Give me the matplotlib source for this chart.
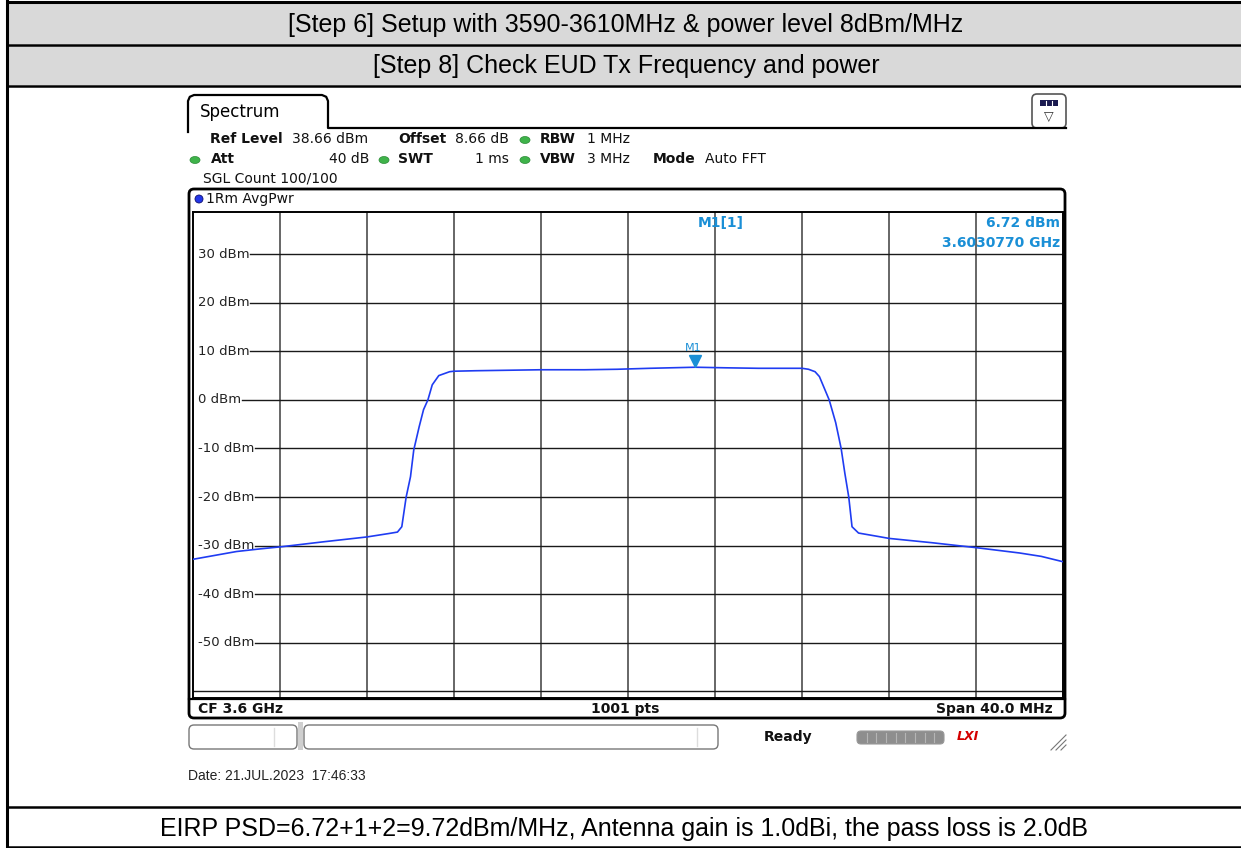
#!/usr/bin/env python
# -*- coding: utf-8 -*-

"""
Spectrum analyser screenshot (EUD Tx power check) redrawn with matplotlib
"""

import matplotlib
matplotlib.use("Agg")
import matplotlib.pyplot as plt
from matplotlib import transforms
from matplotlib.patches import Rectangle, FancyBboxPatch, Ellipse, Circle

W, H = 1241, 848

# trace: frequency in MHz, level in dBm
freq_mhz = [3580.0, 3581.0, 3582.0, 3583.0, 3584.1, 3586.0, 3588.0, 3589.0,
            3589.4, 3589.6, 3589.8, 3590.0, 3590.15, 3590.4, 3590.6, 3590.8,
            3591.0, 3591.3, 3591.8, 3592.0, 3593.0, 3596.0, 3598.0, 3599.5,
            3601.0, 3603.077, 3604.5, 3606.0, 3608.0, 3608.3, 3608.6, 3608.8,
            3609.25, 3609.55, 3609.8, 3609.97, 3610.15, 3610.3, 3610.6, 3611.5,
            3612.0, 3614.0, 3616.0, 3618.0, 3619.0, 3620.0]
level_dbm = [-32.8, -32.0, -31.2, -30.7, -30.2, -29.2, -28.2, -27.5,
             -27.2, -26.1, -20.0, -15.8, -10.3, -5.5, -2.0, 0.0,
             3.1, 5.0, 5.8, 5.9, 6.0, 6.2, 6.2, 6.3,
             6.5, 6.72, 6.6, 6.5, 6.5, 6.3, 5.8, 4.8,
             0.0, -4.7, -10.0, -15.1, -20.0, -26.1, -27.4, -28.1,
             -28.5, -29.4, -30.4, -31.5, -32.2, -33.3]

grid_levels = [30, 20, 10, 0, -10, -20, -30, -40, -50, -60]
grid_labels = ["30 dBm", "20 dBm", "10 dBm", "0 dBm", "-10 dBm", "-20 dBm",
               "-30 dBm", "-40 dBm", "-50 dBm", ""]

ref_level = 38.66
center_mhz = 3600.0
span_mhz = 40.0
marker_freq = 3603.077
marker_level = 6.72

title_rows = ["[Step 6] Setup with 3590-3610MHz & power level 8dBm/MHz",
              "[Step 8] Check EUD Tx Frequency and power"]
result_text = ("EIRP PSD=6.72+1+2=9.72dBm/MHz, Antenna gain is 1.0dBi, "
               "the pass loss is 2.0dB")
date_text = "Date: 21.JUL.2023  17:46:33"

TABLE_FONT = "Liberation Sans"
SCREEN_FONT = "DejaVu Sans"
BLUE = "#1a8fd6"
GREEN = "#3fb34a"


def main():
    fig = plt.figure(figsize=(W / 100, H / 100), dpi=100)

    # background layer drawn in pixel units
    bg = fig.add_axes([0, 0, 1, 1])
    bg.set_xlim(0, W)
    bg.set_ylim(H, 0)
    bg.axis("off")

    # table around the screenshot
    bg.add_patch(Rectangle((8, 3), W, 41, fc="#d9d9d9", ec="none"))
    bg.add_patch(Rectangle((8, 46), W, 39, fc="#d9d9d9", ec="none"))
    for yy, lw in [(1.5, 2.2), (45, 1.8), (86, 1.8), (807, 1.8), (847, 1.8)]:
        bg.plot([6, W], [yy, yy], color="black", lw=lw, solid_capstyle="butt")
    bg.plot([7, 7], [0, H], color="black", lw=2.2)
    bg.text(626, 25, title_rows[0], ha="center", va="center",
            family=TABLE_FONT, fontsize=18)
    bg.text(626, 66, title_rows[1], ha="center", va="center",
            family=TABLE_FONT, fontsize=18)
    bg.text(624, 829, result_text, ha="center", va="center",
            family=TABLE_FONT, fontsize=18)
    bg.text(188, 776, date_text, ha="left", va="center",
            family=TABLE_FONT, fontsize=10, color="#222222")

    # "Spectrum" tab and top rule
    r = 6
    tab_x = [188, 188, 188 + r * 0.3, 188 + r, 328 - r, 328 - r * 0.3, 328, 328, 1066]
    tab_y = [132, 95 + r, 95 + r * 0.3, 95, 95, 95 + r * 0.3, 95 + r, 128, 128]
    bg.plot(tab_x, tab_y, color="black", lw=1.6)
    bg.text(200, 112, "Spectrum", ha="left", va="center",
            family=SCREEN_FONT, fontsize=12)

    # menu icon top right
    bg.add_patch(FancyBboxPatch((1032, 94), 34, 34,
                                boxstyle="round,pad=0,rounding_size=5",
                                fc="white", ec="#555555", lw=1.2))
    bg.add_patch(Rectangle((1040, 100), 18, 6, fc="#1a1a50", ec="none"))
    for xx in [1046, 1052]:
        bg.plot([xx, xx], [101, 105], color="white", lw=0.8)
    bg.text(1049, 116, "\u25bd", ha="center", va="center",
            family=SCREEN_FONT, fontsize=9, color="#333333")

    # settings lines
    fs = 10
    def label(x, y, s, bold=False, ha="left", size=fs):
        bg.text(x, y, s, ha=ha, va="center", family=SCREEN_FONT, fontsize=size,
                fontweight="bold" if bold else "normal", color="#111111")

    def led(x, y):
        bg.add_patch(Ellipse((x, y), 10, 7, fc=GREEN, ec="#2a8a35", lw=0.5))

    label(210, 139, "Ref Level", True)
    label(292, 139, "38.66 dBm")
    label(398, 139, "Offset", True)
    label(455, 139, "8.66 dB")
    led(525, 140)
    label(540, 139, "RBW", True)
    label(587, 139, "1 MHz")
    led(195, 160)
    label(211, 159, "Att", True)
    label(369, 159, "40 dB", ha="right")
    led(384, 160)
    label(398, 159, "SWT", True)
    label(509, 159, "1 ms", ha="right")
    led(525, 160)
    label(540, 159, "VBW", True)
    label(587, 159, "3 MHz")
    label(653, 159, "Mode", True)
    label(705, 159, "Auto FFT")
    label(203, 179, "SGL Count 100/100")

    # diagram frame
    bg.add_patch(FancyBboxPatch((189, 189), 876, 529,
                                boxstyle="round,pad=0,rounding_size=5",
                                fc="white", ec="black", lw=2.0))
    bg.add_patch(Circle((199, 199), 4, fc="#2236e8", ec="#101070", lw=0.6))
    label(206, 199, "1Rm AvgPwr")
    bg.plot([189, 1065], [699, 699], color="black", lw=1.6)
    label(198, 709, "CF 3.6 GHz", True)
    label(625, 709, "1001 pts", True, ha="center")
    label(1053, 709, "Span 40.0 MHz", True, ha="right")

    # status bar
    bg.add_patch(Rectangle((298, 722), 5, 28, fc="#cfcfcf", ec="none"))
    bg.add_patch(FancyBboxPatch((189, 725), 108, 24,
                                boxstyle="round,pad=0,rounding_size=5",
                                fc="white", ec="#777777", lw=1.0))
    bg.plot([274, 274], [728, 746], color="#dddddd", lw=1)
    bg.add_patch(FancyBboxPatch((304, 725), 414, 24,
                                boxstyle="round,pad=0,rounding_size=5",
                                fc="white", ec="#777777", lw=1.0))
    bg.plot([697, 697], [728, 746], color="#dddddd", lw=1)
    label(788, 737, "Ready", True, ha="center")
    bg.add_patch(FancyBboxPatch((857, 731), 87, 13,
                                boxstyle="round,pad=0,rounding_size=4",
                                fc="#8e8e8e", ec="#9a9a9a", lw=0.8))
    for k in range(1, 9):
        xx = 857 + k * 87 / 9
        bg.plot([xx, xx], [733, 742], color="#b5b5b5", lw=0.8)
    bg.text(968, 737, "LXI", ha="center", va="center", family=SCREEN_FONT,
            fontsize=9, fontweight="bold", style="italic", color="#d40000")
    for d in [0, 5, 10, 15]:
        bg.plot([1051 + d, 1066], [750, 735 + d], color="#777777", lw=0.8)

    # measurement grid
    ax = fig.add_axes([193 / W, 1 - 698 / H, 870 / W, 486 / H])
    ax.set_xlim(center_mhz - span_mhz / 2, center_mhz + span_mhz / 2)
    ax.set_ylim(ref_level - 100, ref_level)
    ax.set_facecolor("white")
    ax.set_xticks([])
    ax.set_yticks([])
    for side in ["top", "bottom", "left", "right"]:
        ax.spines[side].set_color("black")
        ax.spines[side].set_linewidth(1.4)

    x_lo = center_mhz - span_mhz / 2
    for k in range(1, 10):
        ax.axvline(x_lo + k * span_mhz / 10, color="#5a5a5a", lw=1.3, zorder=1)

    texts = []
    for lvl, s in zip(grid_levels, grid_labels):
        t = ax.text(x_lo + 0.22, lvl, s, ha="left", va="center",
                    family=SCREEN_FONT, fontsize=9.5, color="#222222", zorder=3)
        texts.append(t)
    fig.canvas.draw()
    inv = ax.transData.inverted()
    for lvl, s, t in zip(grid_levels, grid_labels, texts):
        if s:
            x0 = inv.transform((t.get_window_extent().x1 + 1, 0))[0]
        else:
            x0 = x_lo
        ax.plot([x0, x_lo + span_mhz], [lvl, lvl], color="#1a1a1a", lw=1.0,
                zorder=1)

    # trace
    ax.plot(freq_mhz, level_dbm, color="#1f3cf2", lw=1.2, zorder=4)

    # marker M1
    shifted = transforms.offset_copy(ax.transData, fig=fig, y=6, units="dots")
    ax.plot([marker_freq], [marker_level], marker="v", ms=8, color=BLUE,
            transform=shifted, zorder=5)
    ax.annotate("M1", (marker_freq, marker_level), xytext=(-1, 14),
                textcoords="offset points", ha="center", va="center",
                family=SCREEN_FONT, fontsize=8, color=BLUE)
    ax.text(0.607, 0.977, "M1[1]", transform=ax.transAxes, ha="center",
            va="center", family=SCREEN_FONT, fontsize=fs, fontweight="bold",
            color=BLUE)
    ax.text(0.997, 0.977, "%.2f dBm" % marker_level, transform=ax.transAxes,
            ha="right", va="center", family=SCREEN_FONT, fontsize=fs,
            fontweight="bold", color=BLUE)
    ax.text(0.997, 0.937, "%.7f GHz" % (marker_freq / 1000),
            transform=ax.transAxes, ha="right", va="center",
            family=SCREEN_FONT, fontsize=fs, fontweight="bold", color=BLUE)

    fig.savefig("out.png", dpi=100)
    return 0


if __name__ == "__main__":
    main()
